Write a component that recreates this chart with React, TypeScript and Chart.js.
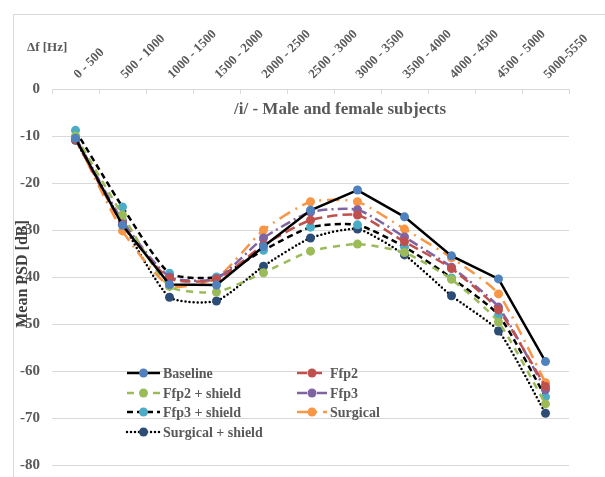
import React, { useEffect, useRef } from "react";
import { Chart, registerables } from "chart.js";

Chart.register(...registerables);

const categories = ["0 - 500", "500 - 1000", "1000 - 1500", "1500 - 2000", "2000 - 2500", "2500 - 3000", "3000 - 3500", "3500 - 4000", "4000 - 4500", "4500 - 5000", "5000-5550"];

const baseline = [-10.5, -29.0, -41.6, -41.7, -33.5, -25.8, -21.5, -27.2, -35.5, -40.4, -58.0];
const ffp2 = [-10.8, -28.8, -40.3, -40.5, -33.2, -27.9, -26.8, -32.5, -38.2, -47.0, -63.3];
const ffp2Shield = [-10.0, -26.8, -42.0, -43.2, -39.1, -34.5, -33.0, -34.8, -40.5, -49.6, -67.0];
const ffp3 = [-10.3, -28.0, -40.0, -40.3, -31.7, -26.2, -25.7, -31.5, -37.9, -46.4, -64.0];
const ffp3Shield = [-8.8, -25.1, -39.2, -40.0, -34.3, -29.4, -28.9, -33.6, -40.2, -48.1, -65.5];
const surgical = [-10.5, -30.2, -41.9, -40.2, -30.0, -24.0, -24.0, -29.8, -35.9, -43.6, -62.5];
const surgicalShield = [-10.9, -28.5, -44.3, -45.1, -37.7, -31.7, -29.8, -35.3, -44.0, -51.5, -69.0];

const seriesNames = ["Baseline", "Ffp2", "Ffp2 + shield", "Ffp3", "Ffp3 + shield", "Surgical", "Surgical + shield"];

const yTicksMin = -80;
const yTicksMax = 0;
const yStep = 10;

const FONT = "'Liberation Serif', 'Times New Roman', serif";
const TEXT = "#595959";
const GRID = "#d9d9d9";

const overlayPlugin = {
  id: "overlay",
  beforeDraw(chart: any) {
    const ctx = chart.ctx;
    ctx.save();
    ctx.fillStyle = "#ffffff";
    ctx.fillRect(0, 0, chart.width, chart.height);
    ctx.strokeStyle = GRID;
    ctx.lineWidth = 1;
    ctx.strokeRect(13.5, 14.5, chart.width + 50, chart.height + 50);
    ctx.restore();
  },
  beforeDatasetsDraw(chart: any) {
    const ctx = chart.ctx;
    const a = chart.chartArea;
    const n = categories.length;
    const w = (a.right - a.left) / n;
    ctx.save();
    ctx.strokeStyle = GRID;
    ctx.lineWidth = 1;
    for (let i = 0; i <= n; i++) {
      const x = Math.round(a.left + i * w) + 0.5;
      ctx.beginPath();
      ctx.moveTo(x, a.top);
      ctx.lineTo(x, a.top + 5);
      ctx.stroke();
    }
    // category labels (rotated)
    const xs = chart.scales.x;
    ctx.fillStyle = TEXT;
    ctx.font = `bold 13px ${FONT}`;
    ctx.textAlign = "left";
    ctx.textBaseline = "alphabetic";
    categories.forEach((c, i) => {
      const px = xs.getPixelForValue(i);
      ctx.save();
      ctx.translate(px + 3, a.top - 10);
      ctx.rotate(-Math.PI / 4);
      ctx.fillText(c, 0, 0);
      ctx.restore();
    });
    ctx.restore();
  },
  afterDraw(chart: any) {
    const ctx = chart.ctx;
    ctx.save();
    // x axis title
    ctx.fillStyle = TEXT;
    ctx.font = `bold 13px ${FONT}`;
    ctx.textAlign = "left";
    ctx.textBaseline = "middle";
    ctx.fillText("\u0394f [Hz]", 27, 48);
    // chart title
    ctx.font = `bold 17px ${FONT}`;
    ctx.textAlign = "center";
    ctx.fillText("/i/ - Male and female subjects", 340, 110);
    // y axis title
    ctx.save();
    ctx.translate(23, 274);
    ctx.rotate(-Math.PI / 2);
    ctx.fillStyle = "#404040";
    ctx.font = `bold 16px ${FONT}`;
    ctx.textAlign = "center";
    ctx.textBaseline = "middle";
    ctx.fillText("Mean PSD [dB]", 0, 0);
    ctx.restore();
    // legend
    const colX = [127, 297];
    const colW = [33, 30];
    const rowY = [373, 393, 412, 432];
    chart.data.datasets.forEach((ds: any, i: number) => {
      const col = i % 2;
      const row = Math.floor(i / 2);
      const x1 = colX[col];
      const x2 = x1 + colW[col];
      const y = rowY[row];
      ctx.save();
      ctx.strokeStyle = ds.borderColor;
      ctx.lineWidth = ds.borderWidth;
      ctx.lineCap = ds.borderCapStyle || "butt";
      ctx.setLineDash(ds.borderDash || []);
      ctx.beginPath();
      ctx.moveTo(x1, y);
      ctx.lineTo(x2, y);
      ctx.stroke();
      ctx.setLineDash([]);
      ctx.fillStyle = ds.pointBackgroundColor;
      ctx.beginPath();
      ctx.arc((x1 + x2) / 2, y, 4.5, 0, Math.PI * 2);
      ctx.fill();
      ctx.fillStyle = TEXT;
      ctx.font = `bold 14px ${FONT}`;
      ctx.textAlign = "left";
      ctx.textBaseline = "middle";
      ctx.fillText(ds.label, x2 + 3, y + 1);
      ctx.restore();
    });
    ctx.restore();
  },
};

export default function App() {
  const ref = useRef<HTMLCanvasElement | null>(null);
  useEffect(() => {
    if (!ref.current) return;
    const mk = (label: string, data: number[], line: string, marker: string, dash: number[], width: number, tension: number, cap = "butt") => ({
      label,
      data,
      borderColor: line,
      borderWidth: width,
      borderDash: dash,
      borderCapStyle: cap,
      pointBackgroundColor: marker,
      pointBorderColor: marker,
      pointBorderWidth: 0,
      pointRadius: 4.5,
      tension,
      fill: false,
    });
    const datasets = [
      mk(seriesNames[0], baseline, "#000000", "#4F81BD", [], 2.5, 0),
      mk(seriesNames[1], ffp2, "#C0504D", "#C0504D", [10, 5], 2.5, 0.2),
      mk(seriesNames[2], ffp2Shield, "#9BBB59", "#9BBB59", [7, 6], 2.5, 0.2),
      mk(seriesNames[3], ffp3, "#8064A2", "#8064A2", [10, 4, 2, 4], 2.5, 0.2),
      mk(seriesNames[4], ffp3Shield, "#000000", "#4BACC6", [6, 4], 2.5, 0.2),
      mk(seriesNames[5], surgical, "#F79646", "#F79646", [12, 6, 2, 6], 2.5, 0.2),
      mk(seriesNames[6], surgicalShield, "#000000", "#2C4D75", [0, 4], 2.5, 0.2, "round"),
    ];
    const chart = new Chart(ref.current, {
      type: "line",
      data: { labels: categories, datasets },
      plugins: [overlayPlugin],
      options: {
        animation: false,
        responsive: false,
        devicePixelRatio: 1,
        layout: { padding: { left: 0, right: 36, top: 0, bottom: 12 } },
        plugins: {
          legend: { display: false },
          title: { display: false },
          tooltip: { enabled: false },
        },
        scales: {
          x: {
            type: "category",
            position: "top",
            offset: true,
            grid: { display: true, drawOnChartArea: false, drawTicks: false, color: GRID },
            border: { display: true, color: GRID, width: 1 },
            ticks: { display: false },
            afterFit: (axis: any) => {
              axis.height = 89;
              axis.paddingLeft = 0;
              axis.paddingRight = 0;
            },
          },
          y: {
            min: yTicksMin,
            max: yTicksMax,
            ticks: {
              stepSize: yStep,
              padding: 12,
              color: TEXT,
              font: { family: FONT, size: 15, weight: "bold" },
            },
            grid: { color: GRID, drawTicks: false, lineWidth: 1 },
            border: { display: false },
            afterFit: (axis: any) => {
              axis.width = 52;
              axis.paddingTop = 0;
              axis.paddingBottom = 0;
            },
          },
        },
      } as any,
    });
    return () => chart.destroy();
  }, []);
  return (
    <div style={{ position: "absolute", left: 0, top: 0, width: 605, height: 477, background: "#fff" }}>
      <canvas ref={ref} width={605} height={477} style={{ display: "block" }} />
    </div>
  );
}
